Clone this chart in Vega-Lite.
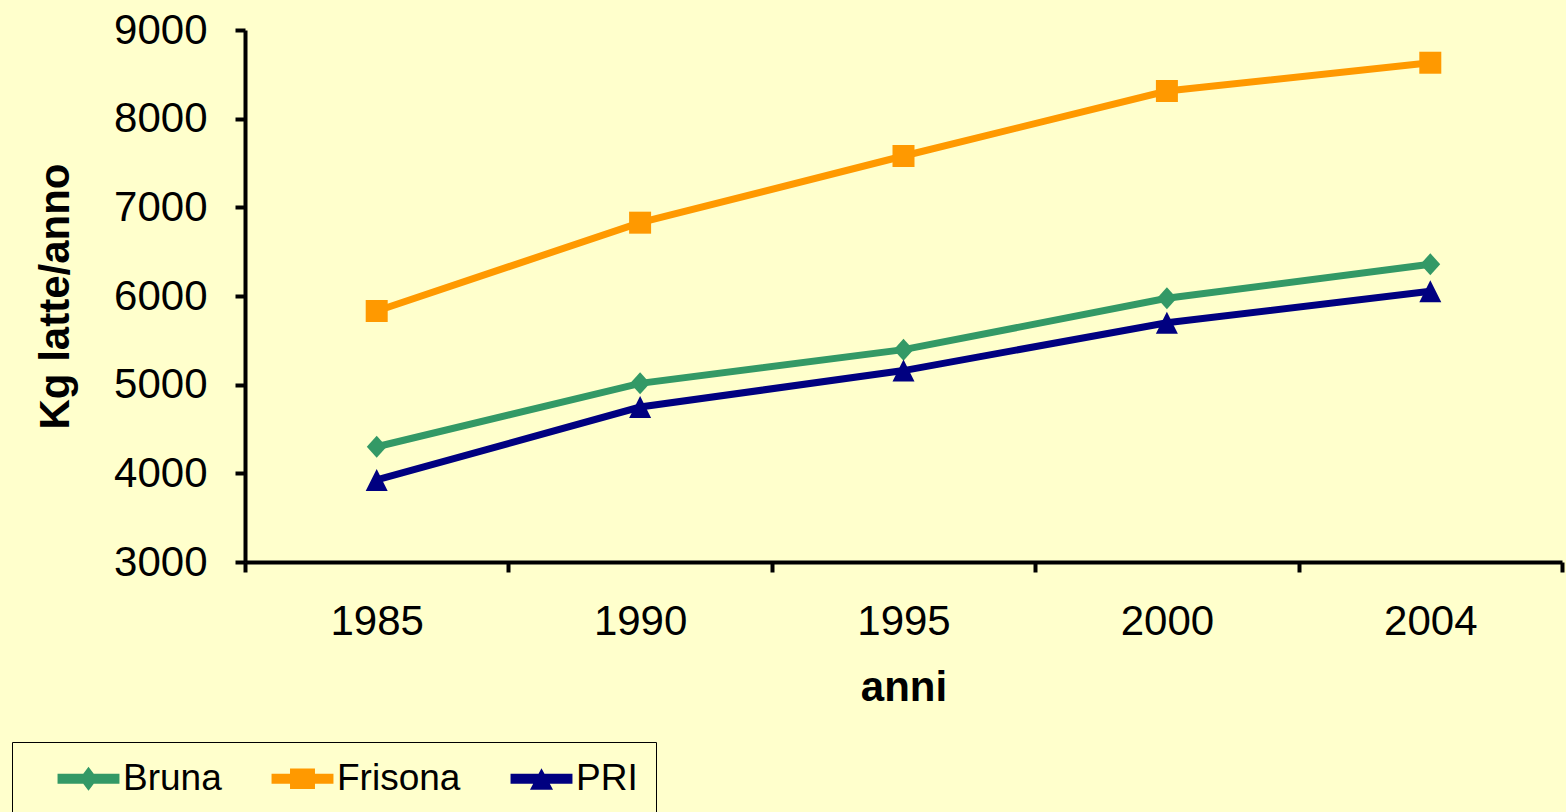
{
  "$schema": "https://vega.github.io/schema/vega-lite/v6.json",
  "width": 1317,
  "height": 532,
  "autosize": {"type": "none"},
  "padding": {"left": 245, "top": 30, "right": 4, "bottom": 250},
  "background": "#FFFFCC",
  "config": {
    "view": {"stroke": null},
    "font": "Liberation Sans",
    "axis": {"grid": false, "domainColor": "#000000", "domainWidth": 4, "tickColor": "#000000", "tickWidth": 4, "tickSize": 10, "labelColor": "#000000", "titleColor": "#000000", "labelFont": "Liberation Sans", "titleFont": "Liberation Sans", "labelFontSize": 42, "titleFontSize": 42, "titleFontWeight": "bold"}
  },
  "data": {
    "values": [
      {"anno": "1985", "serie": "Bruna", "kg": 4300},
      {"anno": "1990", "serie": "Bruna", "kg": 5015},
      {"anno": "1995", "serie": "Bruna", "kg": 5395},
      {"anno": "2000", "serie": "Bruna", "kg": 5974},
      {"anno": "2004", "serie": "Bruna", "kg": 6358},
      {"anno": "1985", "serie": "Frisona", "kg": 5831},
      {"anno": "1990", "serie": "Frisona", "kg": 6827},
      {"anno": "1995", "serie": "Frisona", "kg": 7579},
      {"anno": "2000", "serie": "Frisona", "kg": 8312},
      {"anno": "2004", "serie": "Frisona", "kg": 8631},
      {"anno": "1985", "serie": "PRI", "kg": 3925},
      {"anno": "1990", "serie": "PRI", "kg": 4748},
      {"anno": "1995", "serie": "PRI", "kg": 5159},
      {"anno": "2000", "serie": "PRI", "kg": 5699},
      {"anno": "2004", "serie": "PRI", "kg": 6053}
    ]
  },
  "encoding": {
    "x": {
      "field": "anno", "type": "ordinal", "sort": null,
      "scale": {"paddingInner": 0, "paddingOuter": 0},
      "axis": {"title": "anni", "labelAngle": 0, "tickBand": "extent", "labelPadding": 29, "titlePadding": 25}
    },
    "y": {
      "field": "kg", "type": "quantitative",
      "scale": {"domain": [3000, 9000], "nice": false, "zero": false},
      "axis": {"title": "Kg latte/anno", "format": "d", "values": [3000, 4000, 5000, 6000, 7000, 8000, 9000], "labelPadding": 28, "titlePadding": 36}
    }
  },
  "layer": [
    {
      "mark": {"type": "line", "strokeWidth": 7},
      "encoding": {
        "color": {"field": "serie", "type": "nominal", "legend": null,
          "scale": {"domain": ["Bruna", "Frisona", "PRI"], "range": ["#339966", "#FF9900", "#000080"]}}
      }
    },
    {
      "mark": {"type": "point", "filled": true, "opacity": 1, "size": 484},
      "encoding": {
        "color": {"field": "serie", "type": "nominal", "legend": null,
          "scale": {"domain": ["Bruna", "Frisona", "PRI"], "range": ["#339966", "#FF9900", "#000080"]}},
        "shape": {"field": "serie", "type": "nominal", "legend": null,
          "scale": {"domain": ["Bruna", "Frisona", "PRI"], "range": ["M0,-1L0.9,0L0,1L-0.9,0Z", "M-1,-1H1V1H-1Z", "M0,-1L1,1H-1Z"]}}
      }
    },
    {
      "mark": {"type": "point", "filled": true, "opacity": 0, "size": 576},
      "encoding": {
        "color": {"field": "serie", "type": "nominal",
          "scale": {"domain": ["Bruna", "Frisona", "PRI"], "range": ["#339966", "#FF9900", "#000080"]},
          "legend": {
            "title": null, "orient": "none", "legendX": -233, "legendY": 712, "direction": "horizontal",
            "strokeColor": "#000000", "padding": 18, "symbolSize": 576, "symbolOpacity": 1,
            "symbolStrokeWidth": 0, "symbolOffset": 40, "labelOffset": 16, "columnPadding": 22,
            "labelFont": "Liberation Sans", "labelFontSize": 37, "labelColor": "#000000", "fillColor": "#FFFFCC"
          }
        },
        "shape": {"field": "serie", "type": "nominal",
          "scale": {"domain": ["Bruna", "Frisona", "PRI"], "range": [
            "M-2.58,-0.42H2.58V0.42H-2.58Z M0,-1L0.75,0L0,1L-0.75,0Z",
            "M-2.58,-0.42H2.58V0.42H-2.58Z M-1.04,-0.85H1.04V0.85H-1.04Z",
            "M-2.58,-0.42H2.58V0.42H-2.58Z M0,-0.88L0.96,0.92H-0.96Z"
          ]},
          "legend": {
            "title": null, "orient": "none", "legendX": -233, "legendY": 712, "direction": "horizontal",
            "strokeColor": "#000000", "padding": 18, "symbolSize": 576, "symbolOpacity": 1,
            "symbolStrokeWidth": 0, "symbolOffset": 40, "labelOffset": 16, "columnPadding": 22,
            "labelFont": "Liberation Sans", "labelFontSize": 37, "labelColor": "#000000", "fillColor": "#FFFFCC"
          }
        }
      }
    }
  ],
  "resolve": {"scale": {"color": "independent", "shape": "independent"}}
}
